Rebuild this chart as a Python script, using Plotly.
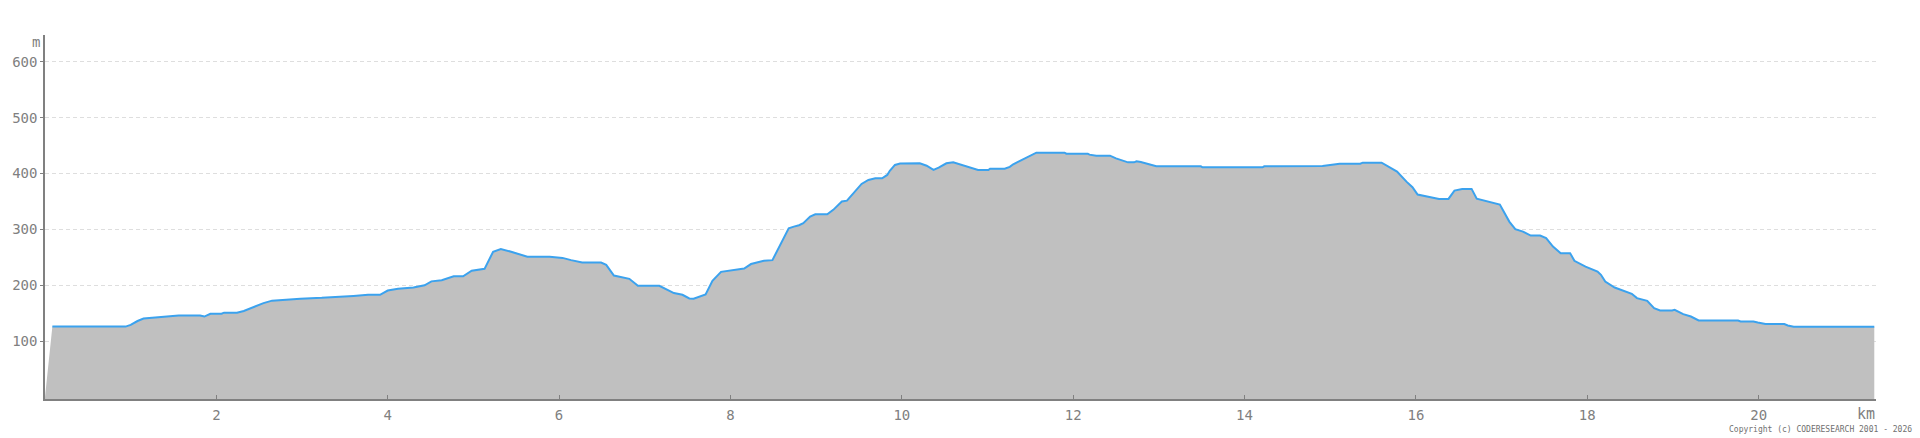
import plotly.graph_objects as go

# Elevation profile: distance (km) and elevation (m)
dist_km = [0.00, 0.086, 0.94, 1.00, 1.08, 1.15, 1.29, 1.46, 1.56, 1.81, 1.86, 1.93, 2.06, 2.09, 2.24,
           2.32, 2.45, 2.55, 2.65, 2.80, 2.98, 3.23, 3.50, 3.60, 3.77, 3.91, 4.00, 4.12, 4.30,
           4.43, 4.51, 4.63, 4.77, 4.88, 4.98, 5.09, 5.13, 5.23, 5.32, 5.44, 5.58, 5.63, 5.89,
           6.04, 6.14, 6.27, 6.49, 6.55, 6.64, 6.76, 6.82, 6.92, 7.17, 7.34, 7.44, 7.52, 7.57,
           7.71, 7.79, 7.89, 8.00, 8.16, 8.24, 8.39, 8.49, 8.68, 8.74, 8.80, 8.85, 8.93, 8.99,
           9.13, 9.20, 9.30, 9.36, 9.42, 9.48, 9.53, 9.61, 9.69, 9.77, 9.83, 9.86, 9.92, 9.98,
           10.21, 10.29, 10.37, 10.43, 10.52, 10.60, 10.72, 10.85, 10.89, 11.01, 11.03, 11.20,
           11.26, 11.30, 11.50, 11.57, 11.90, 11.92, 12.17, 12.19, 12.27, 12.43, 12.50, 12.58,
           12.64, 12.71, 12.74, 12.79, 12.85, 12.91, 12.97, 13.49, 13.51, 14.21, 14.23, 14.91,
           15.00, 15.11, 15.35, 15.38, 15.60, 15.69, 15.78, 15.89, 15.96, 16.02, 16.11, 16.20,
           16.27, 16.38, 16.45, 16.54, 16.65, 16.71, 16.82, 16.98, 17.09, 17.16, 17.25, 17.34,
           17.45, 17.52, 17.60, 17.69, 17.80, 17.85, 17.98, 18.12, 18.16, 18.21, 18.32, 18.43,
           18.52, 18.58, 18.70, 18.78, 18.85, 18.99, 19.02, 19.12, 19.21, 19.30, 19.76, 19.79,
           19.94, 19.99, 20.08, 20.30, 20.34, 20.41, 21.35]
elev_m = [0, 126, 126, 129, 136, 140.5, 142, 144, 146, 146, 144, 149, 149, 151, 151,
          154, 162, 168, 172.5, 174.5, 176, 177.5, 179.3, 181, 183, 183, 190.6, 193.6, 196,
          200, 207, 209, 216, 216, 226, 229, 229.4, 260, 265, 260, 253, 251, 251,
          249, 245, 240.7, 240.7, 236.5, 217.5, 214, 211.5, 199, 199, 186, 183, 176.4, 176,
          183.5, 208, 224, 226, 230, 238, 243.7, 245, 302, 305, 307.5, 311, 323, 327,
          327, 335, 350, 351.5, 361.7, 373.7, 381.4, 388.5, 391.5, 391.5, 397.5, 405, 415.4, 418,
          418.4, 414, 406.4, 410.6, 418.4, 420, 414, 408, 406.4, 406.4, 408.7, 408.7,
          412, 416.6, 432.6, 437.4, 437.4, 435.6, 435.6, 433.8, 432, 432, 427.2, 422.5,
          420, 420, 422, 420.7, 418.4, 414.8, 413, 413, 411.2, 411.2, 413, 413.6,
          415.4, 417.7, 417.7, 419.5, 419.5, 412, 403.4, 385.5, 375.5, 362.3, 360, 357,
          354.6, 354.6, 369.5, 372.5, 372.5, 355, 350.4, 344.4, 314, 300.3, 296, 289,
          289, 284.3, 269.3, 257.5, 257.5, 243.7, 233.5, 224.6, 218.7, 206.7, 196, 190,
          184.7, 177, 172, 159, 155, 155, 156, 148.4, 144, 137, 137, 135.2,
          135.2, 133.4, 130.5, 130.5, 128, 125.7, 125.7]

y_ticks = [100, 200, 300, 400, 500, 600]
x_ticks = [2, 4, 6, 8, 10, 12, 14, 16, 18, 20]
y_unit = "m"
x_unit = "km"
copyright_text = "Copyright (c) CODERESEARCH 2001 - 2026"

W, H = 1920, 438
L, R, T, B = 40, 44, 35, 39
Y_MIN, Y_MAX = -3.6, 648
X_MIN, X_MAX = 0, 21.37

def px_to_paper(px, py):
    return (px - L) / (W - L - R), (H - B - py) / (H - T - B)

GRAY = "#808080"
FONT = "DejaVu Sans Mono"

fig = go.Figure()
# invisible baseline at the bottom of the plot so the fill reaches the axis
fig.add_trace(go.Scatter(x=[dist_km[0], dist_km[-1]], y=[Y_MIN, Y_MIN], mode="lines",
                         line=dict(width=0), hoverinfo="skip", showlegend=False))
fig.add_trace(go.Scatter(x=dist_km, y=elev_m, mode="lines", fill="tonexty",
                         fillcolor="#c0c0c0", line=dict(width=0, color="#c0c0c0"),
                         hoverinfo="skip", showlegend=False))
fig.add_trace(go.Scatter(x=dist_km[1:], y=elev_m[1:], mode="lines",
                         line=dict(width=2, color="#3ba2ee"), showlegend=False))

annotations = []
mx, my = px_to_paper(31, 42)
annotations.append(dict(text=y_unit, x=mx, y=my, xref="paper", yref="paper",
                        showarrow=False, xanchor="center", yanchor="middle",
                        font=dict(family=FONT, size=14, color=GRAY)))
kx, ky = px_to_paper(1866, 414)
annotations.append(dict(text=x_unit, x=kx, y=ky, xref="paper", yref="paper",
                        showarrow=False, xanchor="center", yanchor="middle",
                        font=dict(family=FONT, size=15, color=GRAY)))
cx, cy = px_to_paper(1914, 429)
annotations.append(dict(text=copyright_text, x=cx, y=cy, xref="paper", yref="paper",
                        showarrow=False, xanchor="right", yanchor="middle",
                        font=dict(family=FONT, size=8, color="#707070")))

fig.update_layout(
    width=W, height=H, margin=dict(l=L, r=R, t=T, b=B),
    paper_bgcolor="white", plot_bgcolor="white",
    annotations=annotations,
    xaxis=dict(range=[X_MIN, X_MAX], tickvals=x_ticks, ticktext=[str(v) for v in x_ticks],
               showgrid=False, zeroline=False, showline=True, linecolor=GRAY, linewidth=2,
               ticks="inside", ticklen=4, tickcolor=GRAY, tickwidth=1,
               tickfont=dict(family=FONT, size=14, color=GRAY), ticklabelstandoff=2),
    yaxis=dict(range=[Y_MIN, Y_MAX], tickvals=y_ticks, ticktext=[str(v) for v in y_ticks],
               showgrid=True, gridcolor="#dedede", gridwidth=1, griddash="4px,3px",
               zeroline=False, showline=True, linecolor=GRAY, linewidth=1.5,
               ticks="outside", ticklen=3, tickcolor=GRAY,
               tickfont=dict(family=FONT, size=14, color=GRAY)),
)

fig.write_html("out.html", config={"displayModeBar": False},
               post_script="document.body.style.margin='0';document.body.style.overflow='hidden';")
